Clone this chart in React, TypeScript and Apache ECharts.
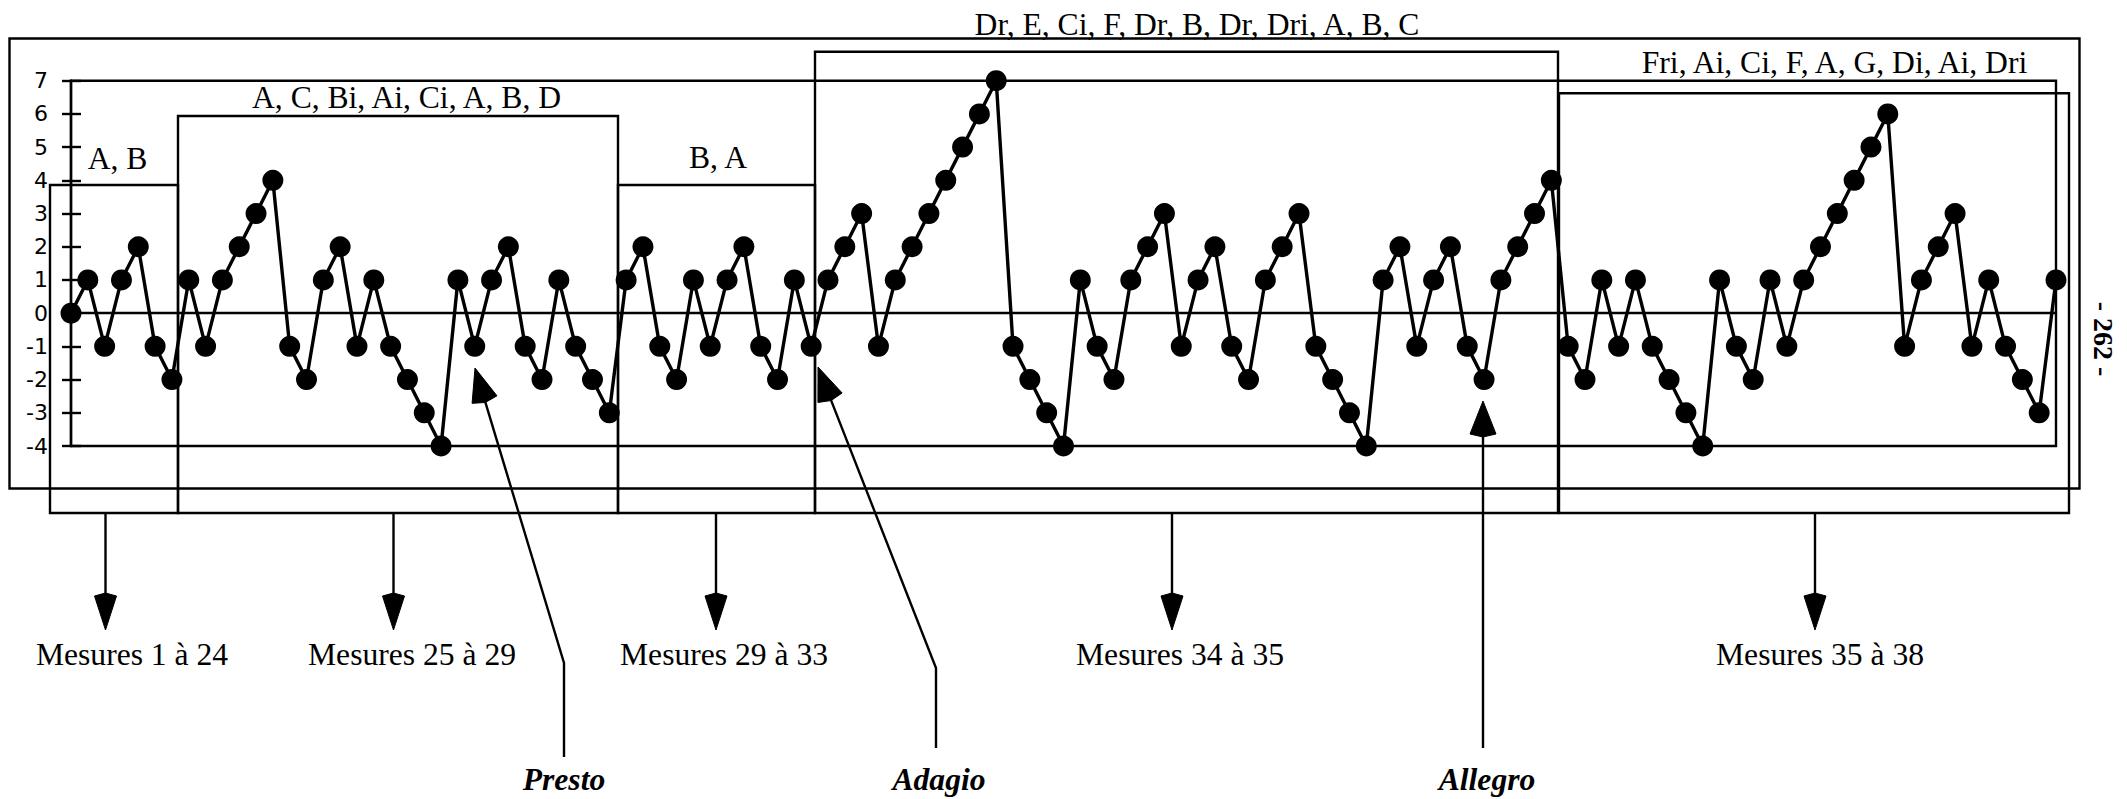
import React, { useEffect, useRef } from "react";
import * as echarts from "echarts";

// ---------- data ----------
const pitchSteps: number[] = [
  0, 1, -1, 1, 2, -1, -2, 1, -1, 1,
  2, 3, 4, -1, -2, 1, 2, -1, 1, -1,
  -2, -3, -4, 1, -1, 1, 2, -1, -2, 1,
  -1, -2, -3, 1, 2, -1, -2, 1, -1, 1,
  2, -1, -2, 1, -1, 1, 2, 3, -1, 1,
  2, 3, 4, 5, 6, 7, -1, -2, -3, -4,
  1, -1, -2, 1, 2, 3, -1, 1, 2, -1,
  -2, 1, 2, 3, -1, -2, -3, -4, 1, 2,
  -1, 1, 2, -1, -2, 1, 2, 3, 4, -1,
  -2, 1, -1, 1, -1, -2, -3, -4, 1, -1,
  -2, 1, -1, 1, 2, 3, 4, 5, 6, -1,
  1, 2, 3, -1, 1, -1, -2, -3, 1,
];
const noteNumbers: string[] = pitchSteps.map((_, i) => String(i + 1));
const yTickMin = -4;
const yTickMax = 7;

const sectionLabels: string[] = [
  "A, B",
  "A, C, Bi, Ai, Ci, A, B, D",
  "B, A",
  "Dr, E, Ci, F, Dr, B, Dr, Dri, A, B, C",
  "Fri, Ai, Ci, F, A, G, Di, Ai, Dri",
];
const measureLabels: string[] = [
  "Mesures 1 à 24",
  "Mesures 25 à 29",
  "Mesures 29 à 33",
  "Mesures 34 à 35",
  "Mesures 35 à 38",
];
const tempoLabels: string[] = ["Presto", "Adagio", "Allegro"];
const pageLabel = "- 262 -";

// ---------- layout (pixels) ----------
const SERIF = "'Liberation Serif', 'Times New Roman', serif";
const FS = 31.6;
const LW = 2.4;
const BOX_BOTTOM = 513;
// [x, top, width, labelX, labelY]
const sectionBoxes: number[][] = [
  [50, 185, 128, 117.5, 158],
  [178, 116, 440, 406.5, 97],
  [618, 185, 197, 718, 157],
  [815, 51.7, 743, 1197, 24],
  [1559, 93.3, 510, 1834.5, 62],
];
// [arrowX, labelX]
const measureArrows: number[][] = [
  [105.5, 132],
  [393.5, 412],
  [716, 724],
  [1172, 1180],
  [1815, 1820],
];
// [labelX, bottomY, bendX, bendY, tipX, tipY]
const tempoArrows: number[][] = [
  [564, 757, 564, 663, 475, 368],
  [939, 748, 936, 668, 818, 367],
  [1487, 748, 1483, 748, 1483, 401],
];

function head(tip: number[], from: number[], len: number, half: number, bulge: number) {
  const dx = tip[0] - from[0];
  const dy = tip[1] - from[1];
  const L = Math.hypot(dx, dy);
  const ux = dx / L;
  const uy = dy / L;
  const bx = tip[0] - ux * len;
  const by = tip[1] - uy * len;
  const px = -uy;
  const py = ux;
  return {
    type: "polygon",
    silent: true,
    shape: {
      points: [
        tip,
        [bx + px * half, by + py * half],
        [bx - ux * bulge, by - uy * bulge],
        [bx - px * half, by - py * half],
      ],
    },
    style: { fill: "#000", stroke: "#000", lineWidth: 1 },
  };
}

function buildGraphics(): any[] {
  const g: any[] = [];
  // outer frame
  g.push({
    type: "rect",
    silent: true,
    shape: { x: 9.5, y: 38.5, width: 2070, height: 450 },
    style: { fill: "none", stroke: "#000", lineWidth: LW },
  });
  sectionBoxes.forEach((b, i) => {
    g.push({
      type: "rect",
      silent: true,
      shape: { x: b[0], y: b[1], width: b[2], height: BOX_BOTTOM - b[1] },
      style: { fill: "none", stroke: "#000", lineWidth: LW },
    });
    g.push({
      type: "text",
      silent: true,
      x: b[3],
      y: b[4],
      style: {
        text: sectionLabels[i],
        fontFamily: SERIF,
        fontSize: FS,
        fill: "#000",
        align: "center",
        verticalAlign: "middle",
      },
    });
  });
  measureArrows.forEach((m, i) => {
    const x = m[0];
    g.push({
      type: "line",
      silent: true,
      shape: { x1: x, y1: BOX_BOTTOM, x2: x, y2: 600 },
      style: { stroke: "#000", lineWidth: LW },
    });
    g.push(head([x, 630], [x, BOX_BOTTOM], 34, 11, 3));
    g.push({
      type: "text",
      silent: true,
      x: m[1],
      y: 654,
      style: {
        text: measureLabels[i],
        fontFamily: SERIF,
        fontSize: FS,
        fill: "#000",
        align: "center",
        verticalAlign: "middle",
      },
    });
  });
  tempoArrows.forEach((t, i) => {
    const [lx, by, bendX, bendY, tx, ty] = t;
    const dx = tx - bendX;
    const dy = ty - bendY;
    const L = Math.hypot(dx, dy);
    const baseX = tx - (dx / L) * 30;
    const baseY = ty - (dy / L) * 30;
    g.push({
      type: "polyline",
      silent: true,
      shape: { points: [[bendX, by], [bendX, bendY], [baseX, baseY]] },
      style: { stroke: "#000", lineWidth: LW, fill: "none" },
    });
    g.push(head([tx, ty], [bendX, bendY], 33, 13, 3));
    g.push({
      type: "text",
      silent: true,
      x: lx,
      y: 779,
      style: {
        text: tempoLabels[i],
        fontFamily: SERIF,
        fontSize: FS,
        fontWeight: "bold",
        fontStyle: "italic",
        fill: "#000",
        align: "center",
        verticalAlign: "middle",
      },
    });
  });
  g.push({
    type: "text",
    silent: true,
    x: 2103,
    y: 339,
    rotation: -Math.PI / 2,
    style: {
      text: pageLabel,
      fontFamily: SERIF,
      fontSize: 28,
      fontWeight: "bold",
      fill: "#000",
      align: "center",
      verticalAlign: "middle",
    },
  });
  return g;
}

export default function App() {
  const ref = useRef<HTMLDivElement>(null);
  useEffect(() => {
    if (!ref.current) return;
    const chart = echarts.init(ref.current, null, { renderer: "svg" });
    const axisLineStyle = { color: "#000", width: LW };
    chart.setOption({
      animation: false,
      backgroundColor: "#fff",
      grid: {
        left: 71,
        top: 80.7,
        width: 1985,
        height: 365.3,
        show: true,
        borderColor: "#000",
        borderWidth: LW,
        backgroundColor: "transparent",
      },
      xAxis: {
        type: "category",
        data: noteNumbers,
        boundaryGap: false,
        axisLine: { show: true, onZero: true, lineStyle: axisLineStyle },
        axisTick: { show: false },
        axisLabel: { show: false },
        splitLine: { show: false },
      },
      yAxis: [
        {
          type: "value",
          min: yTickMin,
          max: yTickMax,
          interval: 1,
          position: "left",
          axisLine: { show: true, lineStyle: axisLineStyle },
          axisTick: { show: true, length: 9, lineStyle: axisLineStyle },
          axisLabel: {
            color: "#000",
            fontFamily: "'DejaVu Sans', sans-serif",
            fontSize: 22,
            margin: 23,
          },
          splitLine: { show: false },
        },
        {
          type: "value",
          min: yTickMin,
          max: yTickMax,
          interval: 1,
          position: "left",
          offset: 0,
          axisLine: { show: false },
          axisTick: { show: true, inside: true, length: 10, lineStyle: axisLineStyle },
          axisLabel: { show: false },
          splitLine: { show: false },
        },
      ],
      series: [
        {
          type: "line",
          data: pitchSteps,
          yAxisIndex: 0,
          symbol: "circle",
          symbolSize: 21,
          showSymbol: true,
          showAllSymbol: true,
          clip: false,
          z: 5,
          itemStyle: { color: "#000", borderWidth: 0 },
          lineStyle: { color: "#000", width: 3.4 },
          emphasis: { disabled: true },
        },
      ],
      graphic: buildGraphics(),
    });
    return () => chart.dispose();
  }, []);
  return (
    <div
      ref={ref}
      style={{ position: "fixed", left: 0, top: 0, width: 2127, height: 799, background: "#fff" }}
    />
  );
}
